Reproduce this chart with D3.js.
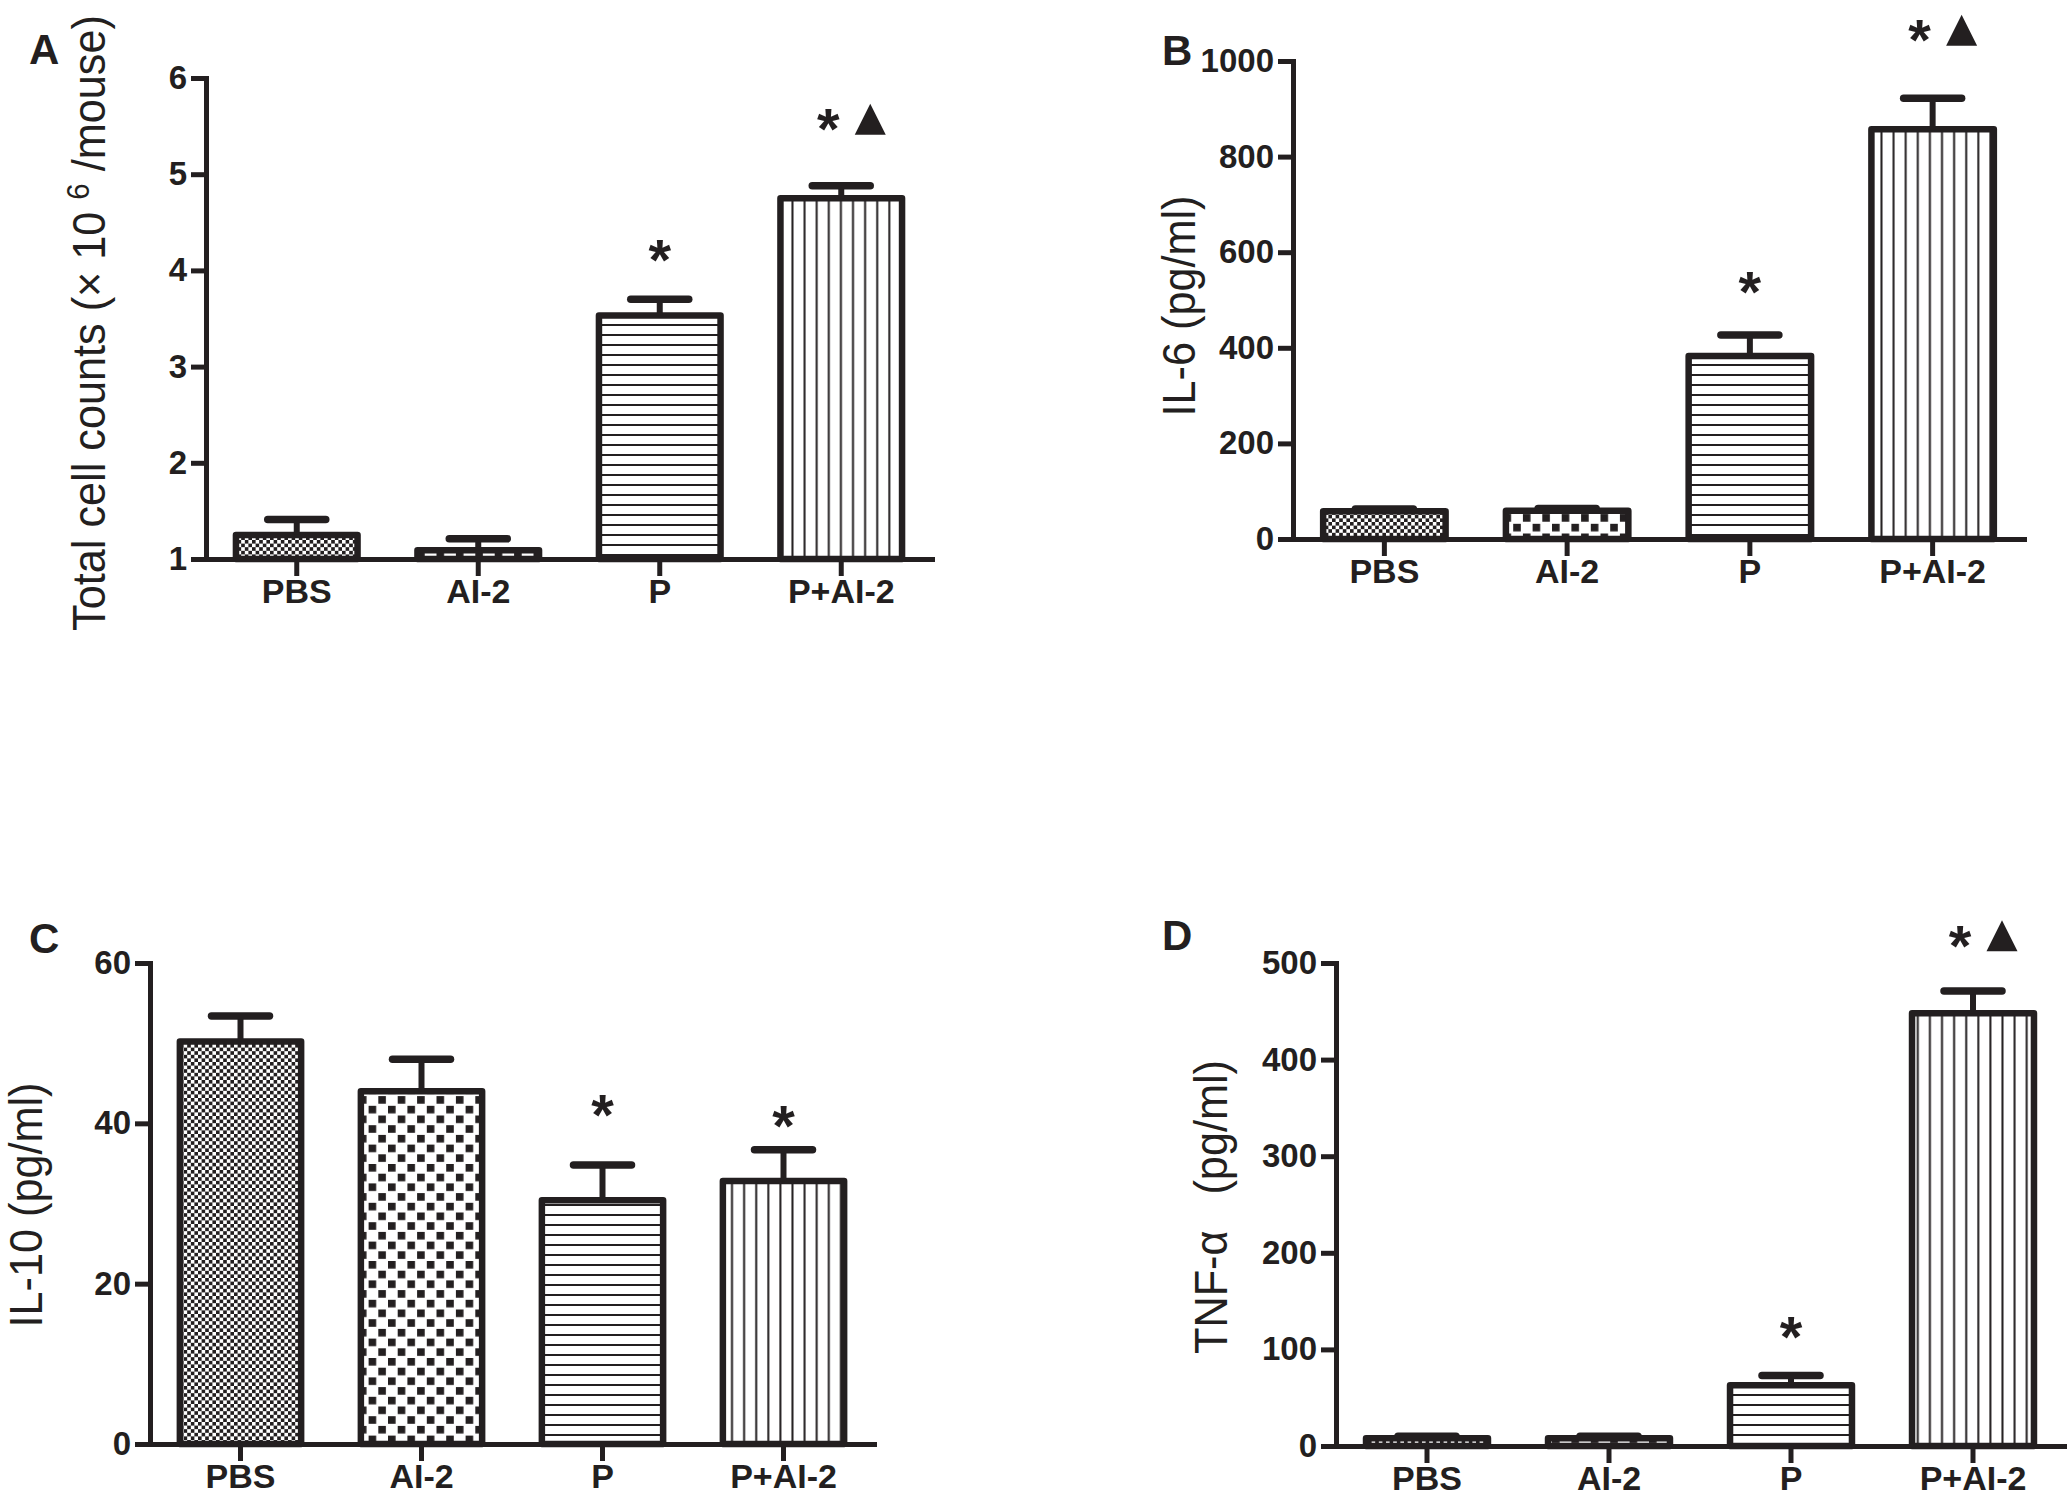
<!DOCTYPE html>
<html>
<head>
<meta charset="utf-8">
<script src="https://cdn.jsdelivr.net/npm/d3@7"></script>
<style>
  html, body { margin: 0; padding: 0; background: #fff; }
  svg { display: block; }
</style>
</head>
<body>
<svg id="fig" width="2070" height="1498"></svg>
<script>
// ---- data ----
const groups = ["PBS", "AI-2", "P", "P+AI-2"];
const fills = ["fine-check", "coarse-check", "h-lines", "v-lines"];

// A: total cell counts (x10^6 / mouse)
const cellMeans = [1.25, 1.09, 3.53, 4.75];
const cellErrTops = [1.41, 1.21, 3.70, 4.88];
const cellTicks = [1, 2, 3, 4, 5, 6];
const cellMarks = ["", "", "*", "*▲"];
const cellMarkLevels = [0, 0, 4.18, 5.54];

// B: IL-6 (pg/ml)
const il6Means = [58, 59, 383, 857];
const il6ErrTops = [63, 64, 427, 922];
const il6Ticks = [0, 200, 400, 600, 800, 1000];
const il6Marks = ["", "", "*", "*▲"];
const il6MarkLevels = [0, 0, 531, 1058];

// C: IL-10 (pg/ml)
const il10Means = [50.2, 44.0, 30.4, 32.8];
const il10ErrTops = [53.4, 48.0, 34.8, 36.7];
const il10Ticks = [0, 20, 40, 60];
const il10Marks = ["", "", "*", "*"];
const il10MarkLevels = [0, 0, 41.9, 40.6];

// D: TNF-alpha (pg/ml)
const tnfMeans = [8, 8, 63, 448];
const tnfErrTops = [10, 10, 73, 471];
const tnfTicks = [0, 100, 200, 300, 400, 500];
const tnfMarks = ["", "", "*", "*▲"];
const tnfMarkLevels = [0, 0, 120, 525];

// ---- layout ----
const ink = "#231f20";
const panels = [
  {letter: "A", lx: 29, ly: 64, left: 206, right: 932, top: 78, bottom: 559, domain: [1, 6],
   ticks: cellTicks, means: cellMeans, errs: cellErrTops, marks: cellMarks, levels: cellMarkLevels,
   tx: 105, ty: 323, title: [{t: "Total cell counts (× 10 "}, {t: "6", sup: true}, {t: " /mouse)"}]},
  {letter: "B", lx: 1162, ly: 65, left: 1293, right: 2024, top: 61, bottom: 539, domain: [0, 1000],
   ticks: il6Ticks, means: il6Means, errs: il6ErrTops, marks: il6Marks, levels: il6MarkLevels,
   tx: 1195, ty: 306, title: [{t: "IL-6 (pg/ml)"}]},
  {letter: "C", lx: 29, ly: 953, left: 150, right: 874, top: 963, bottom: 1444, domain: [0, 60],
   ticks: il10Ticks, means: il10Means, errs: il10ErrTops, marks: il10Marks, levels: il10MarkLevels,
   tx: 42, ty: 1205, title: [{t: "IL-10 (pg/ml)"}]},
  {letter: "D", lx: 1162, ly: 950, left: 1336, right: 2064, top: 963, bottom: 1446, domain: [0, 500],
   ticks: tnfTicks, means: tnfMeans, errs: tnfErrTops, marks: tnfMarks, levels: tnfMarkLevels,
   tx: 1227, ty: 1207, title: [{t: "TNF-α   (pg/ml)"}]}
];

const svg = d3.select("#fig");
const defs = svg.append("defs");

// fill patterns for the four groups
function checker(id, size, sq) {
  const p = defs.append("pattern").attr("id", id)
    .attr("patternUnits", "userSpaceOnUse").attr("width", size).attr("height", size);
  p.append("rect").attr("width", size).attr("height", size).attr("fill", "#fff");
  p.append("rect").attr("width", sq).attr("height", sq).attr("fill", ink);
  p.append("rect").attr("x", size / 2).attr("y", size / 2).attr("width", sq).attr("height", sq).attr("fill", ink);
}
checker("fine-check", 7.2, 3.6);
checker("coarse-check", 19.4, 7.6);

const hp = defs.append("pattern").attr("id", "h-lines")
  .attr("patternUnits", "userSpaceOnUse").attr("width", 10).attr("height", 10);
hp.append("rect").attr("width", 10).attr("height", 10).attr("fill", "#fff");
hp.append("rect").attr("y", 4).attr("width", 10).attr("height", 2).attr("fill", ink);

const vp = defs.append("pattern").attr("id", "v-lines")
  .attr("patternUnits", "userSpaceOnUse").attr("width", 12.1).attr("height", 12.1);
vp.append("rect").attr("width", 12.1).attr("height", 12.1).attr("fill", "#fff");
vp.append("rect").attr("x", 5).attr("width", 2).attr("height", 12.1).attr("fill", ink);

const labelFont = "'Liberation Sans', Arial, Helvetica, sans-serif";

panels.forEach(p => {
  const g = svg.append("g");
  const rows = groups.map((name, i) => ({
    name, fill: fills[i], mean: p.means[i], err: p.errs[i], mark: p.marks[i], level: p.levels[i]
  }));

  const x = d3.scaleBand().domain(groups).range([p.left, p.right])
    .paddingInner(0.33).paddingOuter(0.165);
  const y = d3.scaleLinear().domain(p.domain).range([p.bottom, p.top]);
  const base = p.domain[0];

  // bars
  g.selectAll("rect.bar").data(rows).join("rect")
    .attr("class", "bar")
    .attr("x", d => x(d.name))
    .attr("width", x.bandwidth())
    .attr("y", d => y(d.mean))
    .attr("height", d => y(base) - y(d.mean))
    .attr("fill", d => `url(#${d.fill})`)
    .attr("stroke", ink)
    .attr("stroke-width", 6.5)
    .attr("stroke-linejoin", "round");

  // upper error bars
  const cx = d => x(d.name) + x.bandwidth() / 2;
  g.selectAll("line.stem").data(rows).join("line")
    .attr("class", "stem")
    .attr("x1", cx).attr("x2", cx)
    .attr("y1", d => y(d.mean)).attr("y2", d => y(d.err))
    .attr("stroke", ink).attr("stroke-width", 6);
  g.selectAll("line.cap").data(rows).join("line")
    .attr("class", "cap")
    .attr("x1", d => cx(d) - 29).attr("x2", d => cx(d) + 29)
    .attr("y1", d => y(d.err)).attr("y2", d => y(d.err))
    .attr("stroke", ink).attr("stroke-width", 7.5).attr("stroke-linecap", "round");

  // axes
  const xAxis = g.append("g")
    .attr("transform", `translate(0,${p.bottom})`)
    .call(d3.axisBottom(x).tickSize(17).tickSizeOuter(0).tickPadding(3));
  const yAxis = g.append("g")
    .attr("transform", `translate(${p.left},0)`)
    .call(d3.axisLeft(y).tickValues(p.ticks).tickSize(15).tickSizeOuter(0).tickPadding(4).tickFormat(d3.format("d")));

  [xAxis, yAxis].forEach(ax => {
    ax.attr("font-family", labelFont).attr("font-weight", "bold").attr("font-size", null);
    ax.select(".domain").attr("stroke", ink).attr("stroke-width", 5).attr("stroke-linecap", "square");
    ax.selectAll(".tick line").attr("stroke", ink).attr("stroke-width", 5);
    ax.selectAll(".tick text").attr("fill", ink);
  });
  xAxis.selectAll(".tick text").attr("font-size", 34);
  yAxis.selectAll(".tick text").attr("font-size", 33);

  // significance marks
  const marked = rows.filter(d => d.mark);
  marked.forEach(d => {
    const my = y(d.level);
    const hasTri = d.mark.includes("▲");
    const sx = hasTri ? cx(d) - 13 : cx(d);
    g.append("text")
      .attr("x", sx).attr("y", my + 27)
      .attr("text-anchor", "middle")
      .attr("font-family", labelFont).attr("font-weight", "bold").attr("font-size", 58)
      .attr("fill", ink)
      .text("*");
    if (hasTri) {
      const tx = cx(d) + 29, ty = my - 3, h = 31, w = 31;
      const path = d3.path();
      path.moveTo(tx, ty - h / 2);
      path.lineTo(tx + w / 2, ty + h / 2);
      path.lineTo(tx - w / 2, ty + h / 2);
      path.closePath();
      g.append("path").attr("d", path.toString()).attr("fill", ink);
    }
  });

  // panel letter
  g.append("text")
    .attr("x", p.lx).attr("y", p.ly)
    .attr("font-family", labelFont).attr("font-weight", "bold").attr("font-size", 42)
    .attr("fill", ink)
    .text(p.letter);

  // y-axis title (rotated)
  const title = g.append("text")
    .attr("transform", `translate(${p.tx},${p.ty}) rotate(-90) scale(0.92,1)`)
    .attr("text-anchor", "middle")
    .attr("font-family", labelFont).attr("font-size", 47)
    .attr("fill", ink)
    .style("white-space", "pre");
  p.title.forEach(part => {
    const ts = title.append("tspan").text(part.t);
    if (part.sup) ts.attr("font-size", 32).attr("dy", -16);
    else if (title.selectAll("tspan").size() > 1) ts.attr("dy", 16);
  });
});
</script>
</body>
</html>
